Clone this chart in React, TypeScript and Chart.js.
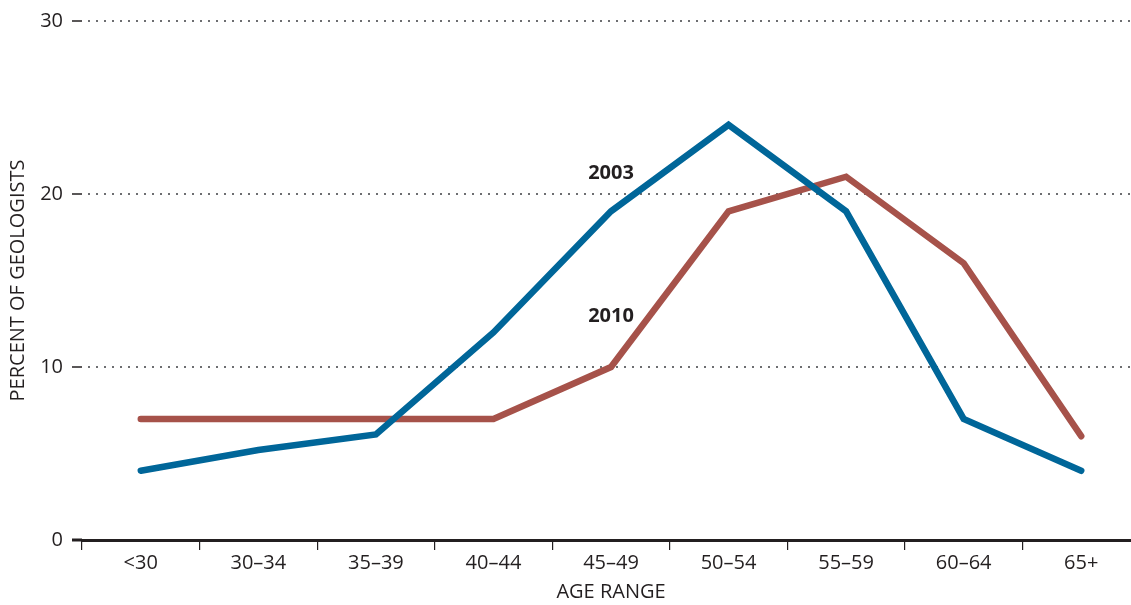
import React, { useEffect, useRef } from "react";
import { Chart, registerables } from "chart.js";

Chart.register(...registerables);

const categories = ["<30", "30–34", "35–39", "40–44", "45–49", "50–54", "55–59", "60–64", "65+"];
const series2003 = [4, 5.2, 6.1, 12, 19, 24, 19, 7, 4];
const series2010 = [7, 7, 7, 7, 10, 19, 21, 16, 6];
const yTickValues = [0, 10, 20, 30];
const seriesNames = ["2003", "2010"];
const seriesColors = ["#006699", "#a6524a"];
const labelCategoryIndex = [4, 4];
const labelValues = [21.2, 12.95];

const FONT = "'Open Sans', 'Noto Sans', sans-serif";
const DARK = "#231f20";

const seriesLabelPlugin = {
  id: "seriesLabels",
  afterDatasetsDraw(chart: any) {
    const ctx = chart.ctx;
    const xs = chart.scales.x;
    const ys = chart.scales.y;
    ctx.save();
    ctx.font = `bold 20px ${FONT}`;
    ctx.fillStyle = DARK;
    ctx.textAlign = "center";
    ctx.textBaseline = "middle";
    seriesNames.forEach((name, i) => {
      const x = xs.getPixelForValue(labelCategoryIndex[i]);
      const y = ys.getPixelForValue(labelValues[i]);
      ctx.fillText(name, x, y);
    });
    ctx.restore();
  },
};

export default function App() {
  const ref = useRef<HTMLCanvasElement | null>(null);

  useEffect(() => {
    if (!ref.current) return;
    const chart = new Chart(ref.current, {
      type: "line",
      data: {
        labels: categories,
        datasets: [
          {
            label: seriesNames[0],
            data: series2003,
            borderColor: seriesColors[0],
            backgroundColor: seriesColors[0],
            borderWidth: 6.5,
            pointRadius: 0,
            tension: 0,
            borderCapStyle: "round",
            borderJoinStyle: "miter",
          },
          {
            label: seriesNames[1],
            data: series2010,
            borderColor: seriesColors[1],
            backgroundColor: seriesColors[1],
            borderWidth: 6.5,
            pointRadius: 0,
            tension: 0,
            borderCapStyle: "round",
            borderJoinStyle: "miter",
          },
        ],
      },
      options: {
        responsive: false,
        animation: false,
        layout: { padding: { top: 16, right: 5, left: 0, bottom: 0 } },
        plugins: {
          legend: { display: false },
          tooltip: { enabled: false },
        },
        scales: {
          x: {
            type: "category",
            offset: true,
            afterFit: (scale: any) => {
              scale.height = 65;
            },
            grid: {
              offset: true,
              drawOnChartArea: false,
              drawTicks: true,
              tickLength: 10,
              color: DARK,
              lineWidth: 1.2,
            },
            border: { display: true, color: DARK, width: 3 },
            ticks: {
              color: DARK,
              font: { family: FONT, size: 20 },
              padding: 1,
              maxRotation: 0,
              autoSkip: false,
            },
            title: {
              display: true,
              text: "AGE RANGE",
              color: DARK,
              font: { family: FONT, size: 20 },
              padding: { top: 0, bottom: 1 },
            },
          },
          y: {
            min: 0,
            max: 30,
            afterFit: (scale: any) => {
              scale.width = 82;
            },
            afterBuildTicks: (scale: any) => {
              scale.ticks = yTickValues.map((v) => ({ value: v }));
            },
            grid: {
              drawTicks: true,
              tickLength: 10,
              color: "#6d6e71",
              lineWidth: 2,
              tickBorderDash: [],
              tickColor: DARK,
              tickWidth: (ctx: any) => (ctx.tick && ctx.tick.value === 0 ? 3 : 1.5),
            },
            border: { display: false, dash: [2, 6], dashOffset: 2 },
            ticks: {
              color: DARK,
              font: { family: FONT, size: 20 },
              padding: 9,
            },
            title: {
              display: true,
              text: "PERCENT OF GEOLOGISTS",
              color: DARK,
              font: { family: FONT, size: 20 },
              padding: { top: 6, bottom: 0 },
            },
          },
        },
      },
      plugins: [seriesLabelPlugin],
    } as any);
    return () => chart.destroy();
  }, []);

  return (
    <div
      style={{
        position: "fixed",
        left: 0,
        top: 0,
        width: 1131,
        height: 605,
        overflow: "hidden",
        background: "#fff",
      }}
    >
      <canvas ref={ref} width={1145} height={605} style={{ display: "block" }} />
    </div>
  );
}
